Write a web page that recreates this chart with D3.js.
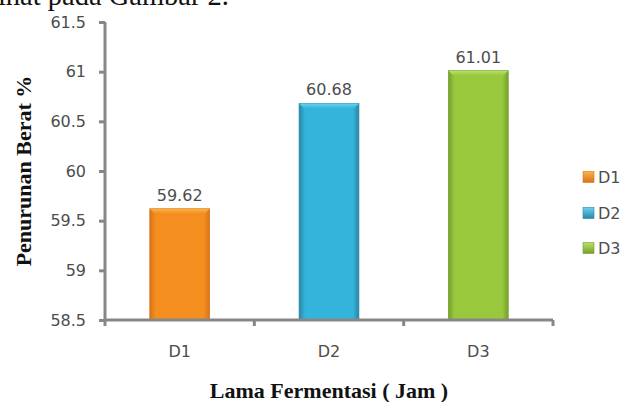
<!DOCTYPE html>
<html>
<head>
<meta charset="utf-8">
<script src="https://cdn.jsdelivr.net/npm/d3@7"></script>
<style>
  html, body { margin: 0; padding: 0; background: #fff; }
  svg { display: block; }
</style>
</head>
<body>
<svg id="chart" width="627" height="402"></svg>
<script>
// Weight loss (%) by fermentation duration
const categories = ["D1", "D2", "D3"];
const values = [59.62, 60.68, 61.01];
const yTicks = [58.5, 59, 59.5, 60, 60.5, 61, 61.5];
const yTickLabels = ["58.5", "59", "59.5", "60", "60.5", "61", "61.5"];
const yDomain = [58.5, 61.5];
const barPalette = [
  { base: "#F48E1E", light: "#FBB24A", dark: "#D8741A" },
  { base: "#34B4DA", light: "#6FD0EE", dark: "#2686A8" },
  { base: "#98C83C", light: "#BBE06A", dark: "#74A02C" }
];

const svg = d3.select("#chart");
const margin = { left: 105, right: 74, top: 22, bottom: 82 };
const W = 627, H = 402;
const labelColor = "#4d4d4d";

// Tail of the preceding paragraph sentence, mostly above the page edge
svg.append("text")
  .attr("x", 229).attr("y", 5)
  .attr("text-anchor", "end")
  .style("font-family", "'Liberation Serif', 'Times New Roman', serif")
  .style("font-size", "28.5px")
  .attr("fill", "#111")
  .text("dilihat pada Gambar 2.");

const x = d3.scaleBand()
  .domain(categories)
  .range([margin.left, W - margin.right])
  .paddingInner(0.6).paddingOuter(0.3);

const y = d3.scaleLinear().domain(yDomain).range([H - margin.bottom, margin.top]);

// Gradients for the bevelled bars
const defs = svg.append("defs");
barPalette.forEach((c, i) => {
  const g = defs.append("linearGradient").attr("id", "bar" + i)
    .attr("x1", "0").attr("x2", "1").attr("y1", "0").attr("y2", "0");
  g.append("stop").attr("offset", "0").attr("stop-color", c.dark);
  g.append("stop").attr("offset", "0.1").attr("stop-color", c.base);
  g.append("stop").attr("offset", "0.9").attr("stop-color", c.base);
  g.append("stop").attr("offset", "1").attr("stop-color", c.dark);
  const t = defs.append("linearGradient").attr("id", "top" + i)
    .attr("x1", "0").attr("x2", "0").attr("y1", "0").attr("y2", "1");
  t.append("stop").attr("offset", "0").attr("stop-color", c.light);
  t.append("stop").attr("offset", "1").attr("stop-color", c.base);
  const lg = defs.append("linearGradient").attr("id", "leg" + i)
    .attr("x1", "0").attr("x2", "0").attr("y1", "0").attr("y2", "1");
  lg.append("stop").attr("offset", "0").attr("stop-color", c.light);
  lg.append("stop").attr("offset", "1").attr("stop-color", c.dark);
});

// Bars
const bars = svg.append("g");
categories.forEach((cat, i) => {
  const bx = x(cat), bw = x.bandwidth();
  const top = y(values[i]), bottom = y(yDomain[0]);
  const c = barPalette[i];
  bars.append("rect")
    .attr("x", bx).attr("y", top)
    .attr("width", bw).attr("height", bottom - top)
    .attr("fill", `url(#bar${i})`)
    .attr("stroke", c.dark).attr("stroke-width", 0.8);
  // bevelled top edge
  const bev = 5;
  bars.append("path")
    .attr("d", `M${bx},${top} L${bx + bw},${top} L${bx + bw - bev},${top + bev} L${bx + bev},${top + bev} Z`)
    .attr("fill", `url(#top${i})`);
  // value label
  svg.append("text")
    .attr("x", bx + bw / 2).attr("y", top - 8)
    .attr("text-anchor", "middle")
    .style("font-family", "'DejaVu Sans', sans-serif")
    .style("font-size", "16px")
    .attr("fill", labelColor)
    .text(values[i].toFixed(2));
});

// Y axis
const axisColor = "#878787";
const yAxis = d3.axisLeft(y).tickValues(yTicks)
  .tickFormat((d, i) => yTickLabels[i]).tickSize(6).tickPadding(13);
const gy = svg.append("g").attr("transform", `translate(${margin.left},0)`).call(yAxis);
gy.select(".domain").attr("stroke", axisColor).attr("stroke-width", 3)
  .attr("d", `M0,${y(yDomain[1])}V${y(yDomain[0])}`);
gy.selectAll(".tick line").attr("stroke", axisColor).attr("stroke-width", 3);
gy.selectAll(".tick text")
  .style("font-family", "'DejaVu Sans', sans-serif")
  .style("font-size", "16px")
  .attr("fill", labelColor);

// X axis with ticks at category boundaries
const xAxisY = y(yDomain[0]);
const gx = svg.append("g");
gx.append("line")
  .attr("x1", margin.left).attr("x2", W - margin.right)
  .attr("y1", xAxisY).attr("y2", xAxisY)
  .attr("stroke", axisColor).attr("stroke-width", 3);
const step = x.step();
const boundaries = categories.map(c => x(c) - (step - x.bandwidth()) / 2).concat([W - margin.right]);
boundaries.forEach(b => {
  gx.append("line")
    .attr("x1", b).attr("x2", b)
    .attr("y1", xAxisY).attr("y2", xAxisY + 6)
    .attr("stroke", axisColor).attr("stroke-width", 3);
});
categories.forEach(cat => {
  gx.append("text")
    .attr("x", x(cat) + x.bandwidth() / 2).attr("y", 357)
    .attr("text-anchor", "middle")
    .style("font-family", "'DejaVu Sans', sans-serif")
    .style("font-size", "16px")
    .attr("fill", labelColor)
    .text(cat);
});

// Axis titles
svg.append("text")
  .attr("transform", `translate(31,${(y(yDomain[0]) + y(yDomain[1])) / 2}) rotate(-90)`)
  .attr("text-anchor", "middle")
  .style("font-family", "'Liberation Serif', 'Times New Roman', serif")
  .style("font-size", "22px").style("font-weight", "bold")
  .attr("fill", "#111")
  .text("Penurunan Berat %");

svg.append("text")
  .attr("x", (margin.left + W - margin.right) / 2).attr("y", 398)
  .attr("text-anchor", "middle")
  .style("font-family", "'Liberation Serif', 'Times New Roman', serif")
  .style("font-size", "22px").style("font-weight", "bold")
  .attr("fill", "#111")
  .text("Lama Fermentasi ( Jam )");

// Legend
const legendY = [177, 213, 248];
const legend = svg.append("g");
categories.forEach((cat, i) => {
  legend.append("rect")
    .attr("x", 583).attr("y", legendY[i] - 5.5)
    .attr("width", 11).attr("height", 11)
    .attr("fill", `url(#leg${i})`)
    .attr("stroke", barPalette[i].dark).attr("stroke-width", 0.6);
  legend.append("text")
    .attr("x", 598).attr("y", legendY[i])
    .attr("dy", "0.36em")
    .style("font-family", "'DejaVu Sans', sans-serif")
    .style("font-size", "16px")
    .attr("fill", labelColor)
    .text(cat);
});
</script>
</body>
</html>
